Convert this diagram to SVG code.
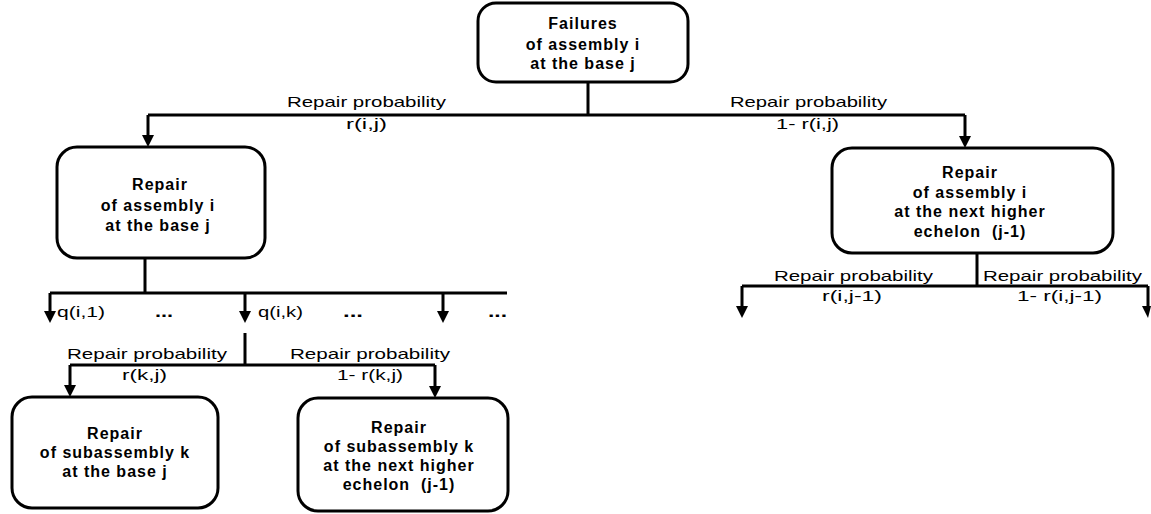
<svg xmlns="http://www.w3.org/2000/svg" width="1151" height="514" viewBox="0 0 1151 514">
<defs>
<style>
.box{fill:#fff;stroke:#000;stroke-width:3}
.bt{font-family:"Liberation Sans",Arial,sans-serif;font-weight:bold;font-size:16px;letter-spacing:1px;text-anchor:middle;fill:#000}
.lb{font-family:"Liberation Sans",Arial,sans-serif;font-size:15px;text-anchor:middle;fill:#000}
.dots{font-family:"Liberation Sans",Arial,sans-serif;font-weight:bold;font-size:16px;fill:#000}
.ln{fill:none;stroke:#000;stroke-width:3}
.ar{fill:none;stroke:#000;stroke-width:3;marker-end:url(#ah)}
</style>
<marker id="ah" markerUnits="userSpaceOnUse" markerWidth="12" markerHeight="12" viewBox="0 0 12 12" refX="6" refY="11" orient="auto-start-reverse">
<path d="M0,0 L12,0 L6,12 Z" fill="#000" transform="rotate(-90 6 6)"/>
</marker>
</defs>
<rect width="1151" height="514" fill="#fff"/>
<g id="connectors">
<path class="ln" d="M588,82 V115 M148,115 H965"/>
<path class="ln" d="M148,115 V136"/>
<path class="ln" d="M965,115 V137"/>
<path class="ln" d="M145,258 V293 M50,293 H507"/>
<path class="ln" d="M50,293 V312 M245,293 V312 M443,293 V312"/>
<path class="ln" d="M245,333 V365 M70,365 H435"/>
<path class="ln" d="M70,365 V386 M435,365 V387"/>
<path class="ln" d="M977,253 V286 M742,286 H1148"/>
<path class="ln" d="M742,286 V307 M1148,286 V307"/>
<g fill="#000">
<path d="M142,135 H154 L148,147 Z"/>
<path d="M959,136 H971 L965,148 Z"/>
<path d="M44,311 H56 L50,323 Z"/>
<path d="M239,311 H251 L245,323 Z"/>
<path d="M437,311 H449 L443,323 Z"/>
<path d="M64,385 H76 L70,397 Z"/>
<path d="M429,386 H441 L435,398 Z"/>
<path d="M736,306 H748 L742,318 Z"/>
<path d="M1142,306 H1151 L1148,318 Z"/>
</g>
<text class="lb" x="366.5" y="107" textLength="159" lengthAdjust="spacingAndGlyphs">Repair probability</text>
<text class="lb" x="366.5" y="129" textLength="41" lengthAdjust="spacingAndGlyphs">r(i,j)</text>
<text class="lb" x="808.5" y="107" textLength="157" lengthAdjust="spacingAndGlyphs">Repair probability</text>
<text class="lb" x="807.5" y="129" textLength="63" lengthAdjust="spacingAndGlyphs">1- r(i,j)</text>
<text class="lb" x="853.5" y="281" textLength="159" lengthAdjust="spacingAndGlyphs">Repair probability</text>
<text class="lb" x="852" y="301" textLength="60" lengthAdjust="spacingAndGlyphs">r(i,j-1)</text>
<text class="lb" x="1062.5" y="281" textLength="159" lengthAdjust="spacingAndGlyphs">Repair probability</text>
<text class="lb" x="1059.5" y="301" textLength="85" lengthAdjust="spacingAndGlyphs">1- r(i,j-1)</text>
<text class="lb" x="81" y="317" textLength="48" lengthAdjust="spacingAndGlyphs">q(i,1)</text>
<text class="lb" x="280.5" y="317" textLength="45" lengthAdjust="spacingAndGlyphs">q(i,k)</text>
<text class="dots" x="155" y="317" textLength="18" lengthAdjust="spacingAndGlyphs">...</text>
<text class="dots" x="343" y="317" textLength="20" lengthAdjust="spacingAndGlyphs">...</text>
<text class="dots" x="488" y="317" textLength="19" lengthAdjust="spacingAndGlyphs">...</text>
<text class="lb" x="147" y="359" textLength="160" lengthAdjust="spacingAndGlyphs">Repair probability</text>
<text class="lb" x="144.5" y="380" textLength="45" lengthAdjust="spacingAndGlyphs">r(k,j)</text>
<text class="lb" x="370" y="359" textLength="160" lengthAdjust="spacingAndGlyphs">Repair probability</text>
<text class="lb" x="370" y="380" textLength="66" lengthAdjust="spacingAndGlyphs">1- r(k,j)</text>
</g>
<g id="node-failures">
<rect class="box" x="478" y="3" width="210" height="79" rx="18"/>
<text class="bt" x="583" y="29">Failures</text>
<text class="bt" x="583" y="50">of assembly i</text>
<text class="bt" x="583" y="69">at the base j</text>
</g>
<g id="node-repair-base">
<rect class="box" x="57" y="147" width="208" height="111" rx="20"/>
<text class="bt" x="160" y="190">Repair</text>
<text class="bt" x="158" y="211">of assembly i</text>
<text class="bt" x="158" y="231">at the base j</text>
</g>
<g id="node-repair-higher">
<rect class="box" x="832" y="148" width="281" height="105" rx="20"/>
<text class="bt" x="970" y="178">Repair</text>
<text class="bt" x="970" y="198">of assembly i</text>
<text class="bt" x="970" y="217">at the next higher</text>
<text class="bt" x="970" y="237" style="white-space:pre">echelon  (j-1)</text>
</g>
<g id="node-sub-base">
<rect class="box" x="12" y="397" width="206" height="111" rx="20"/>
<text class="bt" x="115" y="439">Repair</text>
<text class="bt" x="115" y="458">of subassembly k</text>
<text class="bt" x="115" y="477">at the base j</text>
</g>
<g id="node-sub-higher">
<rect class="box" x="298" y="398" width="210" height="113" rx="20"/>
<text class="bt" x="399" y="433">Repair</text>
<text class="bt" x="399" y="452">of subassembly k</text>
<text class="bt" x="399" y="471">at the next higher</text>
<text class="bt" x="399" y="490" style="white-space:pre">echelon  (j-1)</text>
</g>
</svg>
